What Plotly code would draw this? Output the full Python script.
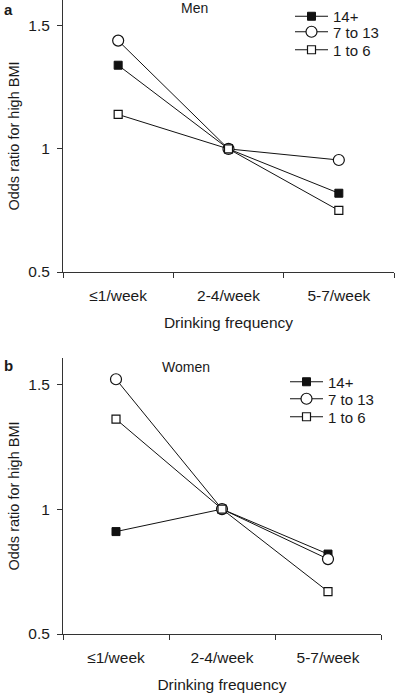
import plotly.graph_objects as go

W, H = 396, 695

categories = ["≤1/week", "2-4/week", "5-7/week"]
series_names = ["14+", "7 to 13", "1 to 6"]

men_14plus = [1.34, 1.00, 0.82]
men_7to13 = [1.44, 1.00, 0.955]
men_1to6 = [1.14, 1.00, 0.75]

women_14plus = [0.91, 1.00, 0.82]
women_7to13 = [1.52, 1.00, 0.80]
women_1to6 = [1.36, 1.00, 0.67]

y_ticks = [0.5, 1, 1.5]
y_tick_labels = ["0.5", "1", "1.5"]

FONT = "Liberation Sans, Arial, Helvetica, sans-serif"
TXT = "#1a1a1a"

styles = [
    dict(symbol="square", size=8, color="#111111", line=dict(color="#111111", width=1)),
    dict(symbol="circle", size=11, color="white", line=dict(color="#111111", width=1.2)),
    dict(symbol="square", size=8, color="white", line=dict(color="#111111", width=1.2)),
]

fig = go.Figure()

def px_x(p):
    return p / W

def px_y(p):
    return 1 - p / H

# one legend per entry so the rows can sit 18 px apart like the reference
panels = [
    dict(data=[men_14plus, men_7to13, men_1to6], xa="x", ya="y",
         legends=["legend2", "legend3", "legend4"], lx=290, rows=[14, 32, 50]),
    dict(data=[women_14plus, women_7to13, women_1to6], xa="x2", ya="y2",
         legends=["legend5", "legend6", "legend7"], lx=285, rows=[382, 399, 417]),
]

legend_common = dict(
    font=dict(family=FONT, size=15, color=TXT), bgcolor="rgba(0,0,0,0)",
    xanchor="left", itemwidth=33, borderwidth=0,
)

legend_layout = {}
for pan in panels:
    for name, vals, st, lg, ry in zip(series_names, pan["data"], styles, pan["legends"], pan["rows"]):
        fig.add_trace(go.Scatter(
            x=categories, y=vals, name=name, mode="lines+markers",
            line=dict(color="#111111", width=1),
            marker=st, xaxis=pan["xa"], yaxis=pan["ya"], legend=lg,
            cliponaxis=False,
        ))
        if ry < 20:
            legend_layout[lg] = dict(x=px_x(pan["lx"]), y=1, yanchor="top", **legend_common)
        else:
            legend_layout[lg] = dict(x=px_x(pan["lx"]), y=px_y(ry), yanchor="middle", **legend_common)

axis_common_x = dict(
    type="category", range=[-0.5, 2.5], showline=True, linecolor="#333333", linewidth=1,
    ticks="outside", tickson="boundaries", ticklen=5, tickcolor="#333333",
    showgrid=False, zeroline=False, ticklabelstandoff=9,
    tickfont=dict(family=FONT, size=15.5, color=TXT),
    title=dict(text="Drinking frequency", font=dict(family=FONT, size=15.5, color=TXT), standoff=14),
)
axis_common_y = dict(
    range=[0.5, 1.605], showline=True, linecolor="#333333", linewidth=1,
    ticks="outside", ticklen=5, tickcolor="#333333",
    tickvals=y_ticks, ticktext=y_tick_labels,
    showgrid=False, zeroline=False, ticklabelstandoff=4,
    tickfont=dict(family=FONT, size=15.5, color=TXT),
    title=dict(text="Odds ratio for high BMI", font=dict(family=FONT, size=14.5, color=TXT), standoff=5),
)

fig.update_layout(
    width=W, height=H, margin=dict(l=0, r=0, t=0, b=0, autoexpand=False),
    paper_bgcolor="white", plot_bgcolor="white", showlegend=True,
    xaxis=dict(domain=[px_x(63), px_x(394)], anchor="y", **axis_common_x),
    yaxis=dict(domain=[px_y(272), px_y(0)], anchor="x", **axis_common_y),
    xaxis2=dict(domain=[px_x(63), px_x(381)], anchor="y2", **axis_common_x),
    yaxis2=dict(domain=[px_y(634), px_y(358)], anchor="x2", **axis_common_y),
    annotations=[
        dict(text="<b>a</b>", x=px_x(2), y=px_y(-1), xref="paper", yref="paper",
             xanchor="left", yanchor="top", showarrow=False, font=dict(family=FONT, size=15, color=TXT)),
        dict(text="<b>b</b>", x=px_x(2), y=px_y(355), xref="paper", yref="paper",
             xanchor="left", yanchor="top", showarrow=False, font=dict(family=FONT, size=15, color=TXT)),
        dict(text="Men", x=px_x(194), y=px_y(8), xref="paper", yref="paper",
             xanchor="center", yanchor="middle", showarrow=False, font=dict(family=FONT, size=14, color=TXT)),
        dict(text="Women", x=px_x(186), y=px_y(367), xref="paper", yref="paper",
             xanchor="center", yanchor="middle", showarrow=False, font=dict(family=FONT, size=14, color=TXT)),
    ],
    **legend_layout,
)

fig.write_html("out.html", config={"displayModeBar": False},
               post_script="document.body.style.margin='0';")
